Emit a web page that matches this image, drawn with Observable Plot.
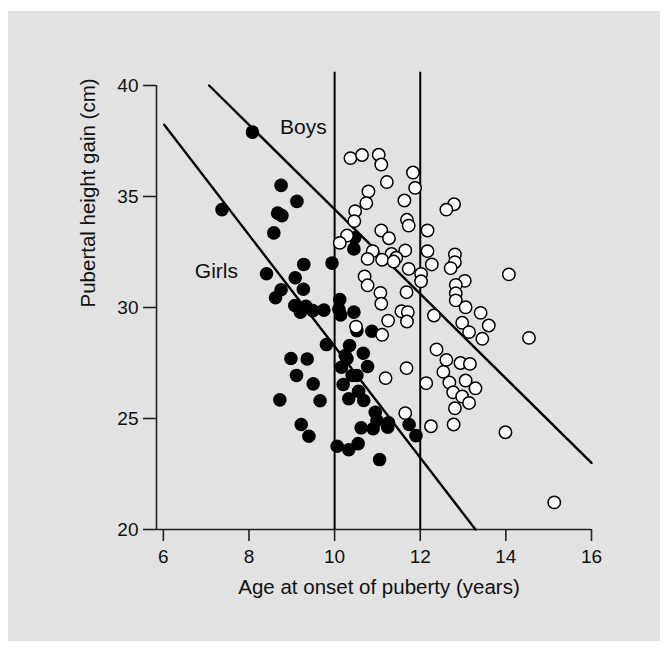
<!DOCTYPE html>
<html>
<head>
<meta charset="utf-8">
<script src="https://cdn.jsdelivr.net/npm/d3@7"></script>
<script src="https://cdn.jsdelivr.net/npm/@observablehq/plot@0.6"></script>
<style>
  html, body { margin: 0; padding: 0; background: #ffffff; }
  #panel { position: absolute; left: 8px; top: 11px; width: 652px; height: 630px; background: #e2e2e2; }
</style>
</head>
<body>
<div id="panel"></div>
<script>
// Girls (filled): age at onset of puberty (years), pubertal height gain (cm)
const girlsAge = [8.08,7.37,8.75,9.12,8.67,8.77,8.58,9.28,8.41,9.08,9.27,8.75,8.62,9.07,9.20,9.33,9.49,9.75,10.12,10.10,10.14,10.45,10.52,10.87,9.81,10.35,10.25,10.29,10.67,10.16,10.77,10.41,10.52,10.20,8.98,9.36,9.11,9.50,8.72,9.66,10.33,10.56,10.68,10.95,10.99,10.90,10.62,11.26,11.24,11.74,11.90,9.22,9.40,10.06,10.33,10.55,11.05,10.47,10.45,9.94];
const girlsGain = [37.90,34.41,35.50,34.78,34.25,34.14,33.36,31.94,31.52,31.34,30.82,30.80,30.44,30.09,29.79,30.05,29.86,29.88,30.36,29.92,29.66,29.79,28.96,28.93,28.33,28.29,27.84,27.69,27.94,27.31,27.34,26.94,26.94,26.53,27.70,27.68,26.94,26.56,25.84,25.80,25.89,26.22,25.81,25.28,24.91,24.54,24.58,24.81,24.61,24.73,24.23,24.73,24.20,23.75,23.59,23.87,23.15,33.14,32.64,32.00];
// Boys (open)
const boysAge = [10.37,10.64,11.03,11.09,11.83,11.22,11.88,10.79,11.63,12.79,12.61,10.74,10.48,10.46,11.69,11.73,12.17,10.29,10.12,11.09,11.27,10.89,11.33,11.65,12.17,12.81,12.81,12.71,10.77,11.11,11.44,11.38,11.73,12.27,14.07,10.70,10.77,12.02,12.02,13.04,11.07,11.68,12.83,12.83,12.83,13.06,11.09,11.56,11.71,11.69,11.25,11.11,10.50,12.32,13.41,12.98,13.60,13.14,13.45,14.54,12.38,12.61,12.94,13.16,12.54,12.68,13.06,13.29,12.77,12.98,13.14,12.81,12.78,11.68,12.14,11.19,11.65,12.25,13.99,15.13];
const boysGain = [36.73,36.87,36.88,36.44,36.08,35.65,35.39,35.23,34.82,34.65,34.41,34.70,34.34,33.89,33.95,33.69,33.47,33.24,32.91,33.47,33.12,32.54,32.41,32.57,32.54,32.39,32.04,31.77,32.19,32.15,32.24,32.07,31.74,31.94,31.49,31.40,31.00,31.51,31.18,31.20,30.66,30.69,31.02,30.64,30.32,30.01,30.17,29.83,29.79,29.37,29.41,28.77,29.14,29.64,29.76,29.31,29.19,28.89,28.59,28.63,28.11,27.64,27.50,27.46,27.10,26.62,26.71,26.36,26.18,25.99,25.70,25.46,24.73,27.27,26.59,26.82,25.24,24.65,24.38,21.22];
// Fitted lines (endpoints)
const boysLineAge = [7.07, 16.0];
const boysLineGain = [40.0, 23.0];
const girlsLineAge = [6.02, 13.29];
const girlsLineGain = [38.23, 20.0];
// Reference ages
const refAges = [10, 12];
// Ticks
const xTicks = [6, 8, 10, 12, 14, 16];
const yTicks = [20, 25, 30, 35, 40];
// Labels
const groupLabels = ["Boys", "Girls"];
const groupLabelAge = [9.27, 7.24];
const groupLabelGain = [38.11, 31.62];

const girls = girlsAge.map((a, i) => ({age: a, gain: girlsGain[i]}));
const boys = boysAge.map((a, i) => ({age: a, gain: boysGain[i]}));
const boysLine = boysLineAge.map((a, i) => ({age: a, gain: boysLineGain[i]}));
const girlsLine = girlsLineAge.map((a, i) => ({age: a, gain: girlsLineGain[i]}));
const labels = groupLabels.map((t, i) => ({t, age: groupLabelAge[i], gain: groupLabelGain[i]}));

const xMin = 5.84, xMax = 16, yMin = 20, yMax = 40;

const chart = Plot.plot({
  width: 652,
  height: 630,
  marginLeft: 148,
  marginRight: 69,
  marginTop: 74,
  marginBottom: 112,
  style: {background: "transparent", fontFamily: "'Liberation Sans', Arial, sans-serif", color: "#111"},
  x: {domain: [xMin, xMax]},
  y: {domain: [yMin, yMax]},
  marks: [
    Plot.axisY({ticks: yTicks, tickSize: 13, tickPadding: 5, fontSize: 19, label: null, stroke: "#222", strokeWidth: 1.6}),
    Plot.axisX({ticks: xTicks, tickSize: 12, tickPadding: 8, fontSize: 19, label: null, stroke: "#222", strokeWidth: 1.6}),
    Plot.ruleX([xMin], {y1: yMin, y2: yMax, stroke: "#222", strokeWidth: 1.6}),
    Plot.ruleY([yMin], {x1: xMin, x2: xMax, stroke: "#222", strokeWidth: 1.6}),
    Plot.ruleX(refAges, {y1: yMin, y2: 40.6, stroke: "#000", strokeWidth: 2}),
    Plot.line(boysLine, {x: "age", y: "gain", stroke: "#000", strokeWidth: 2.4}),
    Plot.line(girlsLine, {x: "age", y: "gain", stroke: "#000", strokeWidth: 2.4}),
    Plot.dot(girls, {x: "age", y: "gain", r: 6.8, fill: "#000", stroke: "none"}),
    Plot.dot(boys, {x: "age", y: "gain", r: 6.2, fill: "#fff", stroke: "#000", strokeWidth: 1.5}),
    Plot.text(labels, {x: "age", y: "gain", text: "t", fontSize: 21, fill: "#111"}),
    Plot.text(["Age at onset of puberty (years)"], {frameAnchor: "bottom", dy: 64, dx: 5, fontSize: 20.5, fill: "#111"}),
    Plot.text(["Pubertal height gain (cm)"], {frameAnchor: "left", rotate: -90, dx: -68, fontSize: 20.5, fill: "#111"})
  ]
});
document.getElementById("panel").appendChild(chart);
</script>
</body>
</html>
